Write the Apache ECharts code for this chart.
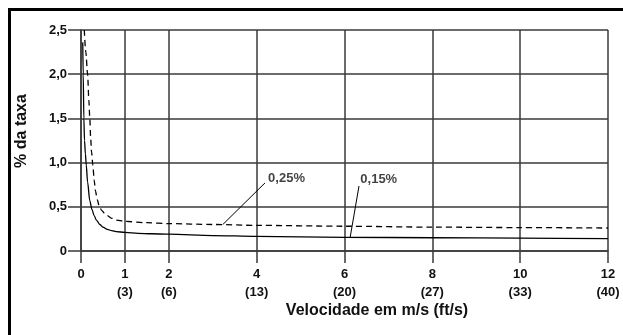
<!DOCTYPE html>
<html>
<head>
<meta charset="utf-8">
<script src="https://cdn.jsdelivr.net/npm/echarts@6/dist/echarts.min.js"></script>
<style>html,body{margin:0;padding:0;background:#fff;}#c{width:623px;height:335px;}</style>
</head>
<body>
<div id="c"></div>
<script>
// ---- data ----
const xTickValues = [0, 1, 2, 4, 6, 8, 10, 12];
const xTickFt = ['', '(3)', '(6)', '(13)', '(20)', '(27)', '(33)', '(40)'];
const yTicks = [0, 0.5, 1.0, 1.5, 2.0, 2.5];

const solidX = [0.04, 0.05, 0.065, 0.08, 0.1, 0.12, 0.15, 0.2, 0.25, 0.3, 0.35, 0.43, 0.5, 0.6, 0.7, 0.8, 1.0, 1.3, 1.6, 2, 3, 4, 6, 8, 10, 12];
const solidY = [2.36, 2.0, 1.5, 1.25, 1.1, 0.97, 0.78, 0.57, 0.47, 0.40, 0.35, 0.30, 0.27, 0.245, 0.23, 0.22, 0.21, 0.20, 0.195, 0.19, 0.175, 0.165, 0.155, 0.15, 0.145, 0.14];

const dashX = [0.075, 0.11, 0.15, 0.18, 0.2, 0.22, 0.24, 0.27, 0.3, 0.33, 0.37, 0.42, 0.47, 0.53, 0.6, 0.7, 0.8, 1.0, 1.5, 2, 3, 4, 6, 8, 10, 12];
const dashY = [2.5, 2.25, 2.0, 1.7, 1.5, 1.28, 1.12, 0.97, 0.8, 0.68, 0.58, 0.5, 0.46, 0.43, 0.40, 0.37, 0.35, 0.335, 0.32, 0.31, 0.30, 0.29, 0.28, 0.27, 0.265, 0.26];

const annotLabels = ['0,25%', '0,15%'];
const annotFrom = [[3.23, 0.30], [6.13, 0.158]];
const annotTo = [[4.19, 0.77], [6.33, 0.735]];
const annotText = [[4.26, 0.826], [6.36, 0.81]];

const xAxisTitle = 'Velocidade em m/s (ft/s)';
const yAxisTitle = '% da taxa';

// ---- chart ----
const gridColor = '#3a3a3a';
const font = 'Liberation Sans, Arial, sans-serif';
const zip = (xs, ys) => xs.map((x, i) => [x, ys[i]]);

const chart = echarts.init(document.getElementById('c'), null, {renderer: 'canvas'});
chart.setOption({
  animation: false,
  backgroundColor: '#fff',
  grid: {left: 81, right: 15, top: 30, bottom: 84, containLabel: false},
  xAxis: {
    type: 'value', min: 0, max: 12,
    axisLine: {show: true, lineStyle: {color: gridColor, width: 1.5}},
    axisTick: {show: true, length: 12, customValues: xTickValues, lineStyle: {color: gridColor, width: 1.5}},
    splitLine: {show: true, lineStyle: {color: gridColor, width: 1.5}},
    axisLabel: {
      customValues: xTickValues, margin: 14,
      fontFamily: font, fontWeight: 'bold', fontSize: 13, color: '#111', lineHeight: 18,
      formatter: v => {
        const i = xTickValues.indexOf(v);
        const ft = i >= 0 ? xTickFt[i] : '';
        return ft ? v + '\n' + ft : String(v);
      },
      verticalAlign: 'top'
    }
  },
  yAxis: {
    type: 'value', min: 0, max: 2.5, interval: 0.5,
    axisLine: {show: true, lineStyle: {color: gridColor, width: 1.5}},
    axisTick: {show: true, length: 13, lineStyle: {color: gridColor, width: 1.5}},
    splitLine: {show: true, lineStyle: {color: gridColor, width: 1.5}},
    axisLabel: {
      margin: 14, fontFamily: font, fontWeight: 'bold', fontSize: 13, color: '#111',
      formatter: v => v === 0 ? '0' : v.toFixed(1).replace('.', ',')
    }
  },
  series: [
    {
      name: '0,15%', type: 'line', data: zip(solidX, solidY), showSymbol: false,
      smooth: 0.3, smoothMonotone: 'x',
      lineStyle: {color: '#000', width: 1.3}
    },
    {
      name: '0,25%', type: 'line', data: zip(dashX, dashY), showSymbol: false,
      smooth: 0.3, smoothMonotone: 'x',
      lineStyle: {color: '#000', width: 1.3, type: [6, 4]}
    },
    {
      name: 'leaders', type: 'lines', coordinateSystem: 'cartesian2d',
      data: annotFrom.map((f, i) => ({coords: [f, annotTo[i]]})),
      lineStyle: {color: '#000', width: 1, opacity: 1}, silent: true
    },
    {
      name: 'labels', type: 'scatter', symbolSize: 0,
      data: annotText.map((p, i) => ({value: p, label: {formatter: annotLabels[i]}})),
      label: {show: true, position: 'right', distance: 0,
        fontFamily: font, fontWeight: 'bold', fontSize: 13, color: '#111'},
      silent: true
    }
  ],
  graphic: [
    {type: 'line', shape: {x1: 8, y1: 9.5, x2: 623, y2: 9.5}, style: {stroke: '#000', lineWidth: 3}},
    {type: 'line', shape: {x1: 9.5, y1: 8, x2: 9.5, y2: 335}, style: {stroke: '#000', lineWidth: 3}},
    {type: 'text', x: 377, y: 311,
      style: {text: xAxisTitle, fontFamily: font, fontWeight: 'bold', fontSize: 16, fill: '#111',
        textAlign: 'center', textVerticalAlign: 'middle'}},
    {type: 'text', x: 22, y: 131, rotation: Math.PI / 2,
      style: {text: yAxisTitle, fontFamily: font, fontWeight: 'bold', fontSize: 16, fill: '#111',
        textAlign: 'center', textVerticalAlign: 'middle'}}
  ]
});
</script>
</body>
</html>
